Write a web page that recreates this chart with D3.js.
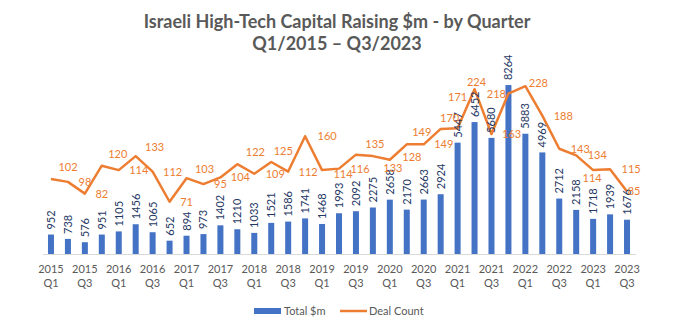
<!DOCTYPE html>
<html><head><meta charset="utf-8">
<script src="https://cdn.jsdelivr.net/npm/d3@7"></script>
<style>
html,body{margin:0;padding:0;background:#fff;}
svg{display:block;font-family:Lato,"Open Sans",sans-serif;}
</style></head>
<body>
<svg id="c" width="675" height="327"></svg>
<script>
const years = ["2015","2015","2015","2015","2016","2016","2016","2016","2017","2017","2017","2017",
  "2018","2018","2018","2018","2019","2019","2019","2019","2020","2020","2020","2020",
  "2021","2021","2021","2021","2022","2022","2022","2022","2023","2023","2023"];
const quarters = ["Q1","Q2","Q3","Q4","Q1","Q2","Q3","Q4","Q1","Q2","Q3","Q4",
  "Q1","Q2","Q3","Q4","Q1","Q2","Q3","Q4","Q1","Q2","Q3","Q4",
  "Q1","Q2","Q3","Q4","Q1","Q2","Q3","Q4","Q1","Q2","Q3"];
const totalRaised = [952,738,576,951,1105,1456,1065,652,894,973,1402,1210,
  1033,1521,1586,1741,1468,1993,2092,2275,2658,2170,2663,2924,
  5447,6452,5680,8264,5883,4969,2712,2158,1718,1939,1676];
const dealCount = [102,98,82,120,114,133,112,71,103,95,104,122,
  109,125,112,160,114,116,135,133,128,149,149,170,
  171,224,163,218,228,188,143,134,114,115,85];
const shownTicks = ["Q1","Q3"];
const titleLines = ["Israeli High-Tech Capital Raising $m - by Quarter","Q1/2015 \u2013 Q3/2023"];
const legendNames = ["Total $m","Deal Count"];

// label nudges (presentation only)
const lineLabelNudge = [[17,-12],[17,0],[17,0],[16,-12],[20,0],[19,-9],[20,0],[17,0],[18,-9],[17,0],[20,0],[18,-12],
  [21,0],[12,-11],[20,0],[22,0],[21,4],[21,0],[19,-11],[20,12],[22,-3],[15,-12],[20,0],[9,-11],
  [0,-31],[2,-7],[20,0],[-12,0],[13,-3],[21,0],[21,0],[21,0],[-1,8],[21,0],[7,0]];

const svg = d3.select("#c");
const idx = d3.range(totalRaised.length);
const x = d3.scaleBand().domain(idx).range([42.5,635.5]).paddingInner(0.646).paddingOuter(0.323);
const cx = i => x(i) + x.bandwidth()/2;
const yBar = d3.scaleLinear().domain([0,9000]).range([254,70]);
const yLine = d3.scaleLinear().domain([0,250]).range([254,70]);

const BLUE="#4472C4", ORANGE="#ED7D31", GRAY="#595959", NAVY="#1F3864";

// title
svg.append("g").selectAll("text").data(titleLines).join("text")
  .attr("x",337).attr("y",(d,i)=>28+i*22).attr("text-anchor","middle")
  .attr("font-size",18).attr("font-weight","bold").attr("fill",GRAY).text(d=>d);

// axis
const ax = svg.append("g").attr("transform","translate(0,254)")
  .call(d3.axisBottom(x).tickSize(0).tickFormat(""));
ax.select(".domain").attr("stroke","#D9D9D9");
ax.selectAll(".tick").each(function(i){
  if(!shownTicks.includes(quarters[i])) return;
  const t = d3.select(this).append("text").attr("fill",GRAY).attr("font-size",11)
    .attr("text-anchor","middle").attr("font-family","Lato,sans-serif");
  t.append("tspan").attr("x",0).attr("y",19).text(years[i]);
  t.append("tspan").attr("x",0).attr("y",33).text(quarters[i]);
});

// bars
svg.append("g").selectAll("rect").data(idx).join("rect")
  .attr("x",i=>x(i)).attr("width",x.bandwidth())
  .attr("y",i=>yBar(totalRaised[i])).attr("height",i=>yBar(0)-yBar(totalRaised[i]))
  .attr("fill",BLUE);

// line
svg.append("path").datum(idx)
  .attr("d",d3.line().x(i=>cx(i)).y(i=>yLine(dealCount[i])))
  .attr("fill","none").attr("stroke",ORANGE).attr("stroke-width",2.5).attr("stroke-linejoin","round");

// bar labels
svg.append("g").selectAll("text").data(idx).join("text")
  .attr("transform",i=>`translate(${cx(i)+4},${yBar(totalRaised[i])-5}) rotate(-90)`)
  .attr("font-size",11).attr("fill",NAVY).text(i=>totalRaised[i]);

// line labels
svg.append("g").selectAll("text").data(idx).join("text")
  .attr("x",i=>cx(i)+lineLabelNudge[i][0]).attr("y",i=>yLine(dealCount[i])+lineLabelNudge[i][1]+4)
  .attr("text-anchor","middle").attr("font-size",11).attr("fill",ORANGE).text(i=>dealCount[i]);

// legend
const lg = svg.append("g");
lg.append("rect").attr("x",254).attr("y",308).attr("width",27).attr("height",6).attr("fill",BLUE);
lg.append("text").attr("x",284).attr("y",315).attr("font-size",11).attr("fill",GRAY).text(legendNames[0]);
lg.append("line").attr("x1",340).attr("x2",367).attr("y1",311).attr("y2",311).attr("stroke",ORANGE).attr("stroke-width",2.5);
lg.append("text").attr("x",369).attr("y",315).attr("font-size",11).attr("fill",GRAY).text(legendNames[1]);
</script>
</body></html>
